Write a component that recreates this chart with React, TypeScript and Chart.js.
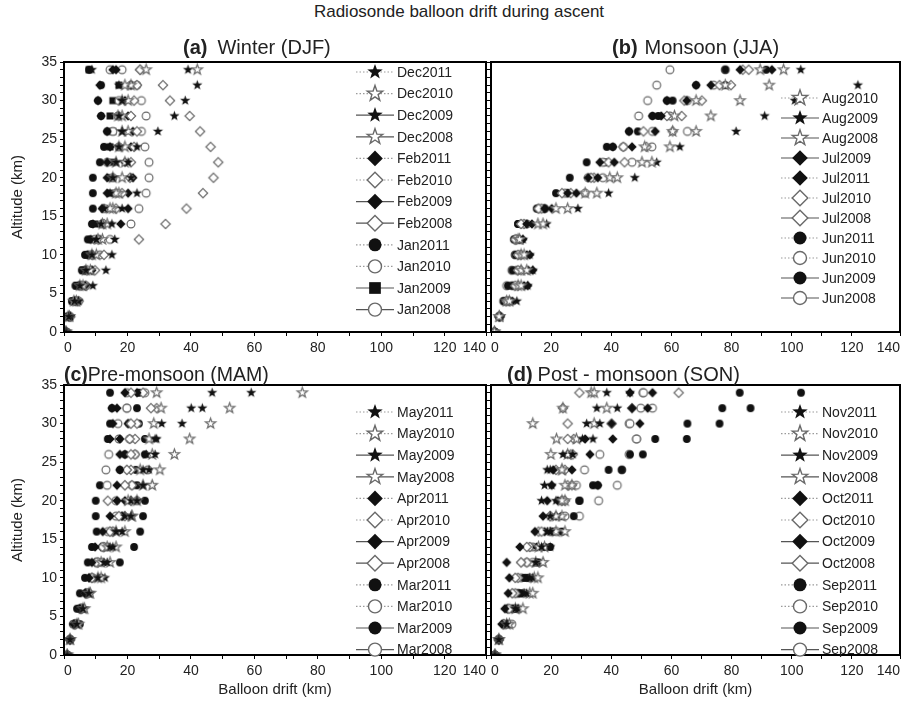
import React, { useEffect, useRef } from 'react';
import { Chart, registerables } from 'chart.js';
Chart.register(...registerables);

const FONT = '"Liberation Sans", Arial, Helvetica, sans-serif';

// Altitude levels (km) shared by every series
const ALTITUDE_KM = [0, 2, 4, 6, 8, 10, 12, 14, 16, 18, 20, 22, 24, 26, 28, 30, 32, 34];

// ---------- (a) Winter (DJF) : drift in km ----------
const DEC2011 = [0.6, 1.5, 3.3, 5.0, 6.9, 8.8, 10.2, 11.7, 12.6, 14.5, 15.4, 16.4, 17.3, 18.3, 17.3, 18.3, 17.3, 8.8];
const DEC2010 = [0.5, 1.3, 3.1, 5.0, 6.9, 8.8, 10.7, 12.1, 14.5, 16.4, 15.4, 16.4, 17.3, 18.3, 17.0, 18.3, 19.2, 42.0];
const DEC2009 = [0.8, 2.0, 4.6, 9.1, 13.2, 15.1, 16.0, 15.1, 18.3, 23.0, 21.1, 20.2, 23.0, 29.6, 34.8, 38.2, 42.0, 39.1];
const DEC2008 = [0.7, 1.7, 3.9, 6.0, 8.3, 10.2, 12.1, 13.6, 15.4, 17.3, 18.3, 19.2, 19.2, 20.2, 18.3, 20.2, 21.1, 25.9];
const FEB2011 = [0.6, 1.4, 3.4, 4.6, 6.6, 7.4, 8.4, 9.1, 12.0, 13.6, 13.6, 13.6, 14.5, 13.6, 11.7, 10.7, 11.3, 15.4];
const FEB2010 = [0.6, 1.6, 3.7, 5.5, 7.4, 8.8, 10.7, 12.6, 16.4, 18.3, 20.8, 21.1, 22.1, 23.0, 21.1, 22.1, 23.0, 24.0];
const FEB2009 = [0.7, 1.8, 4.1, 6.6, 8.8, 9.1, 11.3, 17.9, 20.2, 20.2, 21.7, 19.2, 21.1, 21.7, 20.2, 19.2, 21.1, 16.4];
const FEB2008 = [0.7, 2.0, 4.6, 6.9, 9.8, 12.6, 23.6, 32.0, 38.6, 43.8, 47.1, 48.6, 46.2, 42.9, 39.6, 33.4, 31.2, 24.0];
const JAN2011 = [0.5, 1.2, 2.5, 3.6, 5.6, 6.6, 7.5, 8.8, 9.1, 9.1, 9.1, 11.3, 12.6, 13.6, 11.7, 10.7, 11.7, 7.9];
const JAN2010 = [0.6, 1.5, 3.1, 5.0, 6.5, 7.9, 9.8, 12.0, 12.6, 16.4, 15.4, 13.6, 17.3, 15.4, 17.0, 17.3, 21.1, 14.5];
const JAN2009 = [0.5, 1.2, 2.7, 4.1, 6.0, 7.4, 8.8, 9.8, 12.9, 14.5, 14.5, 15.4, 14.5, 15.4, 14.5, 15.4, 17.3, 7.9];
const JAN2008 = [0.8, 1.9, 4.6, 6.9, 8.8, 11.3, 14.5, 21.1, 23.6, 25.9, 26.8, 26.8, 25.5, 24.4, 25.9, 24.4, 23.0, 18.3];

// ---------- (b) Monsoon (JJA) ----------
const AUG2010 = [1.1, 2.7, 6.1, 10.0, 11.9, 11.0, 9.5, 17.3, 25.5, 35.2, 42.0, 53.5, 59.5, 68.2, 73.1, 82.8, 92.5, 97.3];
const AUG2009 = [1.3, 3.2, 8.6, 12.2, 13.9, 12.9, 10.6, 18.5, 28.9, 39.1, 47.8, 55.1, 62.8, 81.5, 91.0, 101.0, 122.0, 103.0];
const AUG2008 = [1.2, 2.8, 5.2, 9.0, 10.0, 10.0, 9.0, 15.6, 21.6, 31.3, 39.5, 50.2, 51.1, 60.4, 61.0, 68.2, 77.9, 89.5];
const JUL2009 = [1.3, 2.9, 7.1, 12.2, 13.9, 12.9, 10.6, 13.6, 20.2, 28.4, 35.5, 41.0, 46.9, 54.6, 56.6, 65.1, 73.1, 93.4];
const JUL2011 = [1.2, 2.8, 6.1, 11.0, 12.4, 11.9, 9.5, 11.9, 17.8, 25.5, 32.3, 36.2, 40.5, 45.9, 53.7, 58.5, 68.2, 82.8];
const JUL2010 = [1.1, 2.7, 5.2, 8.1, 9.0, 9.0, 8.1, 10.0, 15.8, 23.6, 33.3, 39.1, 44.0, 50.7, 58.5, 64.3, 76.0, 85.7];
const JUL2008 = [1.2, 2.9, 6.1, 9.0, 10.0, 10.0, 8.5, 11.0, 16.8, 26.5, 34.3, 44.4, 51.7, 60.4, 63.4, 70.1, 79.8, 83.7];
const JUN2011 = [1.3, 2.7, 4.2, 5.6, 7.1, 8.1, 7.6, 9.0, 15.2, 21.6, 26.2, 31.8, 38.5, 45.9, 53.7, 58.5, 68.2, 77.9];
const JUN2010 = [1.1, 2.9, 4.2, 5.2, 6.9, 8.0, 8.1, 10.0, 15.8, 24.6, 32.3, 37.2, 44.0, 53.7, 49.1, 52.1, 55.1, 59.5];
const JUN2009 = [1.3, 2.7, 4.7, 7.1, 9.0, 10.0, 8.5, 9.0, 17.8, 25.5, 33.3, 38.1, 40.5, 48.8, 55.6, 60.4, 77.9, 91.5];
const JUN2008 = [1.2, 2.8, 5.2, 7.1, 8.5, 9.5, 9.0, 11.9, 17.8, 31.3, 37.2, 46.9, 53.5, 65.3, 59.5, 65.3, 74.0, 77.9];

// ---------- (c) Pre-monsoon (MAM) ----------
const MAY2011 = [1.0, 1.9, 4.1, 6.0, 7.9, 10.7, 13.6, 15.4, 18.3, 21.1, 23.0, 24.9, 26.8, 28.7, 28.7, 37.2, 43.6, 59.0];
const MAY2010 = [1.0, 1.9, 4.6, 6.5, 8.3, 11.7, 14.5, 16.4, 19.2, 21.4, 23.0, 27.8, 30.2, 34.8, 39.6, 46.2, 52.2, 75.1];
const MAY2009 = [1.0, 1.9, 4.1, 6.0, 7.9, 12.9, 12.6, 14.5, 16.4, 19.2, 21.1, 27.8, 24.9, 25.9, 29.2, 30.8, 40.1, 46.7];
const MAY2008 = [1.0, 1.9, 4.1, 6.0, 7.9, 10.7, 11.7, 13.6, 16.4, 21.4, 20.2, 24.9, 24.0, 27.8, 26.8, 28.3, 30.6, 29.2];
const APR2011 = [1.0, 1.9, 3.1, 5.0, 6.6, 7.9, 8.8, 9.8, 12.2, 14.5, 16.7, 16.7, 17.6, 17.6, 14.5, 15.4, 15.1, 19.2];
const APR2010 = [1.0, 1.9, 3.6, 5.5, 7.5, 8.8, 10.2, 12.1, 14.5, 17.3, 13.8, 19.2, 19.8, 21.1, 20.7, 21.1, 27.4, 21.1];
const APR2009 = [1.0, 1.9, 3.1, 5.0, 6.9, 7.9, 9.8, 11.7, 14.5, 18.3, 19.2, 19.2, 19.8, 19.2, 17.6, 20.2, 16.7, 23.0];
const APR2008 = [1.0, 1.9, 3.6, 5.5, 6.9, 8.8, 10.7, 12.6, 15.4, 19.2, 21.1, 21.4, 21.1, 22.4, 22.4, 23.0, 29.2, 24.9];
const MAR2011 = [1.0, 1.9, 5.0, 6.0, 7.9, 11.7, 17.6, 22.1, 24.0, 24.9, 25.5, 23.0, 22.6, 25.5, 25.5, 23.6, 23.0, 23.6];
const MAR2010 = [1.0, 1.9, 3.1, 5.6, 7.5, 9.1, 12.0, 13.6, 15.4, 16.4, 16.4, 13.6, 13.2, 14.1, 20.7, 20.5, 19.8, 19.8];
const MAR2009 = [1.0, 1.9, 2.8, 4.1, 5.0, 6.6, 7.5, 8.8, 10.3, 10.0, 10.0, 11.3, 17.6, 19.2, 13.8, 14.5, 15.1, 14.5];
const MAR2008 = [1.0, 1.9, 3.4, 5.0, 6.9, 8.8, 10.7, 12.6, 13.8, 18.3, 23.0, 21.4, 26.4, 22.4, 17.3, 17.0, 19.8, 25.5];

// ---------- (d) Post - monsoon (SON) ----------
const NOV2011 = [1.3, 2.6, 5.2, 8.1, 11.0, 12.9, 14.9, 16.8, 18.7, 19.7, 16.8, 17.8, 18.7, 23.9, 30.4, 31.8, 35.2, 38.5];
const NOV2010 = [1.3, 2.6, 6.1, 10.6, 13.9, 15.6, 17.3, 15.8, 24.6, 21.6, 23.6, 24.6, 23.6, 19.9, 21.8, 13.9, 23.9, 34.3];
const NOV2009 = [1.3, 2.6, 5.6, 9.0, 11.9, 13.9, 17.3, 19.7, 19.7, 21.6, 21.6, 20.2, 19.7, 27.2, 33.9, 36.2, 42.0, 46.2];
const NOV2008 = [1.3, 2.6, 5.2, 8.1, 12.9, 14.4, 14.9, 17.8, 21.6, 23.6, 24.6, 26.9, 23.6, 25.5, 28.4, 34.3, 38.5, 33.3];
const OCT2011 = [1.3, 2.6, 3.6, 4.6, 5.7, 6.1, 5.2, 9.6, 14.6, 17.3, 18.7, 20.2, 20.7, 25.5, 31.3, 40.1, 46.9, 46.2];
const OCT2010 = [1.3, 2.6, 4.2, 6.1, 7.1, 8.1, 10.0, 11.9, 16.8, 19.7, 24.6, 26.9, 21.6, 27.2, 25.5, 25.5, 23.9, 29.4];
const OCT2009 = [1.3, 2.6, 4.2, 5.2, 7.1, 8.1, 10.0, 15.2, 17.8, 21.6, 22.2, 35.5, 26.9, 32.9, 40.5, 49.5, 52.1, 53.7];
const OCT2008 = [1.3, 2.6, 4.2, 5.6, 8.1, 9.0, 11.9, 12.9, 15.8, 19.7, 23.6, 25.5, 24.6, 26.5, 27.5, 40.1, 46.9, 62.4];
const SEP2011 = [1.3, 2.6, 5.2, 8.1, 10.0, 11.9, 15.8, 19.7, 23.6, 27.5, 29.4, 35.5, 43.5, 50.5, 65.1, 76.0, 86.3, 103.1];
const SEP2010 = [1.3, 2.6, 6.9, 9.0, 11.0, 12.9, 13.9, 12.9, 21.8, 24.6, 23.6, 28.4, 31.1, 36.2, 48.4, 46.2, 49.8, 50.7];
const SEP2009 = [1.3, 2.6, 4.7, 7.1, 9.0, 11.0, 14.9, 17.8, 20.7, 23.6, 29.4, 33.9, 39.1, 46.2, 54.6, 65.3, 76.9, 82.7];
const SEP2008 = [1.3, 2.6, 5.2, 7.1, 9.0, 10.0, 11.9, 13.9, 19.7, 29.4, 35.8, 42.0, 43.5, 45.9, 48.4, 45.9, 53.7, 50.5];

type Marker = 'star' | 'diamond' | 'circle' | 'square';
interface SeriesDef { label: string; values: number[]; marker: Marker; filled: boolean; dotted: boolean; }

const S = (label: string, values: number[], marker: Marker, filled: boolean, dotted: boolean): SeriesDef =>
  ({ label, values, marker, filled, dotted });

const SERIES_A: SeriesDef[] = [
  S('Dec2011', DEC2011, 'star', true, true),
  S('Dec2010', DEC2010, 'star', false, true),
  S('Dec2009', DEC2009, 'star', true, false),
  S('Dec2008', DEC2008, 'star', false, false),
  S('Feb2011', FEB2011, 'diamond', true, true),
  S('Feb2010', FEB2010, 'diamond', false, true),
  S('Feb2009', FEB2009, 'diamond', true, false),
  S('Feb2008', FEB2008, 'diamond', false, false),
  S('Jan2011', JAN2011, 'circle', true, true),
  S('Jan2010', JAN2010, 'circle', false, true),
  S('Jan2009', JAN2009, 'square', true, false),
  S('Jan2008', JAN2008, 'circle', false, false),
];
const SERIES_B: SeriesDef[] = [
  S('Aug2010', AUG2010, 'star', false, true),
  S('Aug2009', AUG2009, 'star', true, false),
  S('Aug2008', AUG2008, 'star', false, false),
  S('Jul2009', JUL2009, 'diamond', true, false),
  S('Jul2011', JUL2011, 'diamond', true, true),
  S('Jul2010', JUL2010, 'diamond', false, true),
  S('Jul2008', JUL2008, 'diamond', false, false),
  S('Jun2011', JUN2011, 'circle', true, true),
  S('Jun2010', JUN2010, 'circle', false, true),
  S('Jun2009', JUN2009, 'circle', true, false),
  S('Jun2008', JUN2008, 'circle', false, false),
];
const SERIES_C: SeriesDef[] = [
  S('May2011', MAY2011, 'star', true, true),
  S('May2010', MAY2010, 'star', false, true),
  S('May2009', MAY2009, 'star', true, false),
  S('May2008', MAY2008, 'star', false, false),
  S('Apr2011', APR2011, 'diamond', true, true),
  S('Apr2010', APR2010, 'diamond', false, true),
  S('Apr2009', APR2009, 'diamond', true, false),
  S('Apr2008', APR2008, 'diamond', false, false),
  S('Mar2011', MAR2011, 'circle', true, true),
  S('Mar2010', MAR2010, 'circle', false, true),
  S('Mar2009', MAR2009, 'circle', true, false),
  S('Mar2008', MAR2008, 'circle', false, false),
];
const SERIES_D: SeriesDef[] = [
  S('Nov2011', NOV2011, 'star', true, true),
  S('Nov2010', NOV2010, 'star', false, true),
  S('Nov2009', NOV2009, 'star', true, false),
  S('Nov2008', NOV2008, 'star', false, false),
  S('Oct2011', OCT2011, 'diamond', true, true),
  S('Oct2010', OCT2010, 'diamond', false, true),
  S('Oct2009', OCT2009, 'diamond', true, false),
  S('Oct2008', OCT2008, 'diamond', false, false),
  S('Sep2011', SEP2011, 'circle', true, true),
  S('Sep2010', SEP2010, 'circle', false, true),
  S('Sep2009', SEP2009, 'circle', true, false),
  S('Sep2008', SEP2008, 'circle', false, false),
];

function markerPath(ctx: CanvasRenderingContext2D, m: Marker, x: number, y: number, r: number) {
  ctx.beginPath();
  if (m === 'circle') {
    ctx.arc(x, y, r, 0, Math.PI * 2);
  } else if (m === 'square') {
    ctx.rect(x - r * 0.9, y - r * 0.9, r * 1.8, r * 1.8);
  } else if (m === 'diamond') {
    const d = r * 1.2;
    ctx.moveTo(x, y - d); ctx.lineTo(x + d, y); ctx.lineTo(x, y + d); ctx.lineTo(x - d, y); ctx.closePath();
  } else {
    for (let i = 0; i < 10; i++) {
      const ang = -Math.PI / 2 + (i * Math.PI) / 5;
      const rad = i % 2 === 0 ? r * 1.25 : r * 0.5;
      const px = x + rad * Math.cos(ang), py = y + rad * Math.sin(ang);
      if (i === 0) ctx.moveTo(px, py); else ctx.lineTo(px, py);
    }
    ctx.closePath();
  }
}

function paintMarker(ctx: CanvasRenderingContext2D, m: Marker, filled: boolean, x: number, y: number, r: number, lw: number) {
  markerPath(ctx, m, x, y, r);
  if (filled) {
    ctx.fillStyle = '#111';
    ctx.fill();
  } else {
    ctx.fillStyle = '#fff';
    ctx.fill();
    ctx.strokeStyle = '#6a6a6a';
    ctx.lineWidth = lw;
    ctx.stroke();
  }
}

const spriteCache = new Map<string, HTMLCanvasElement>();
function sprite(m: Marker, filled: boolean, r: number) {
  const key = m + filled + r;
  const hit = spriteCache.get(key);
  if (hit) return hit;
  const size = Math.ceil(r * 3) + 2;
  const c = document.createElement('canvas');
  c.width = size; c.height = size;
  const ctx = c.getContext('2d')!;
  paintMarker(ctx, m, filled, size / 2, size / 2, r, 1.2);
  spriteCache.set(key, c);
  return c;
}

const framePlugin = {
  id: 'frameBox',
  afterDatasetsDraw(chart: any) {
    const { ctx, chartArea: a } = chart;
    ctx.save();
    ctx.strokeStyle = '#000';
    ctx.lineWidth = 2;
    ctx.strokeRect(a.left, a.top, a.right - a.left, a.bottom - a.top);
    ctx.restore();
  },
};

const lineLegendPlugin = {
  id: 'lineLegend',
  afterDraw(chart: any, _args: any, opts: any) {
    const { ctx } = chart;
    ctx.save();
    ctx.font = `14px ${FONT}`;
    ctx.textBaseline = 'middle';
    ctx.textAlign = 'left';
    chart.data.datasets.forEach((d: any, i: number) => {
      const y = opts.y + i * opts.dy;
      const x = opts.x;
      ctx.beginPath();
      ctx.setLineDash(d.dotted ? [1.5, 2] : []);
      ctx.strokeStyle = d.dotted ? '#9a9a9a' : '#555';
      ctx.lineWidth = 1.2;
      ctx.moveTo(x - 19, y);
      ctx.lineTo(x + 19, y);
      ctx.stroke();
      ctx.setLineDash([]);
      paintMarker(ctx, d.marker, d.filled, x, y, 6.5, 1.4);
      ctx.fillStyle = '#222';
      ctx.fillText(d.label, x + 22, y + 1);
    });
    ctx.restore();
  },
};

interface PanelProps {
  series: SeriesDef[];
  left: number; top: number; width: number; height: number;
  pad: { top: number; right: number; bottom: number; left: number };
  yWidth: number; xHeight: number; xMax: number;
  yLabels: boolean; yTitle: boolean; xTitle: boolean;
  legend: { x: number; y: number; dy: number };
}

function Panel(p: PanelProps) {
  const ref = useRef<HTMLCanvasElement>(null);
  useEffect(() => {
    const datasets = p.series.map((s) => ({
      label: s.label,
      data: ALTITUDE_KM.map((alt, i) => ({ x: s.values[i], y: alt })),
      pointStyle: sprite(s.marker, s.filled, s.marker === 'star' ? 4.3 : 3.9),
      showLine: false,
      marker: s.marker,
      filled: s.filled,
      dotted: s.dotted,
    }));
    const tickFont = { family: FONT, size: 14 };
    const chart = new Chart(ref.current!, {
      type: 'scatter',
      data: { datasets } as any,
      plugins: [framePlugin, lineLegendPlugin],
      options: {
        animation: false,
        responsive: false,
        events: [],
        layout: { padding: p.pad, autoPadding: false } as any,
        plugins: {
          legend: { display: false },
          tooltip: { enabled: false },
          lineLegend: p.legend,
        } as any,
        scales: {
          x: {
            type: 'linear', min: 0, max: p.xMax,
            afterFit: (s: any) => { s.height = p.xHeight; },
            border: { display: true, color: '#000', width: 2 },
            grid: { drawOnChartArea: false, drawTicks: true, tickLength: 4, color: '#000' },
            ticks: {
              stepSize: 10, autoSkip: false, maxRotation: 0, padding: 4, align: 'inner',
              color: '#222', font: tickFont,
              callback: (v: any, i: number, ticks: any[]) =>
                i === ticks.length - 1 ? '140' : (Number(v) % 20 === 0 ? String(v) : ''),
            },
            title: {
              display: p.xTitle, text: 'Balloon drift (km)', color: '#222',
              font: { family: FONT, size: 15 }, padding: { top: 0, bottom: 10 },
            },
          },
          y: {
            type: 'linear', min: 0, max: 35,
            afterFit: (s: any) => { s.width = p.yWidth; },
            border: { display: true, color: '#000', width: 2 },
            grid: { drawOnChartArea: false, drawTicks: true, tickLength: 4, color: '#000' },
            ticks: {
              stepSize: 1, autoSkip: false, padding: 3, color: '#222', font: tickFont,
              callback: (v: any) => (p.yLabels && Number(v) % 5 === 0 ? String(v) : ''),
            },
            title: {
              display: p.yTitle, text: 'Altitude (km)', color: '#222',
              font: { family: FONT, size: 15 }, padding: { top: 9, bottom: 0 },
            },
          },
        },
      } as any,
    });
    return () => chart.destroy();
  }, []);
  return (
    <canvas
      ref={ref}
      width={p.width}
      height={p.height}
      style={{ position: 'absolute', left: p.left, top: p.top, width: p.width, height: p.height }}
    />
  );
}

const titleStyle: React.CSSProperties = {
  position: 'absolute', fontFamily: FONT, color: '#222', whiteSpace: 'nowrap', lineHeight: '22px',
};

export default function App() {
  return (
    <div style={{ position: 'absolute', left: 0, top: 0, width: 918, height: 709, background: '#fff', overflow: 'hidden' }}>
      <div style={{ ...titleStyle, left: 0, width: 918, top: 1, textAlign: 'center', fontSize: 17 }}>
        Radiosonde balloon drift during ascent
      </div>
      <Panel series={SERIES_A} left={0} top={40} width={490} height={325} xMax={133}
        pad={{ top: 22, right: 3, bottom: 0, left: 0 }} yWidth={64} xHeight={33}
        yLabels yTitle xTitle={false} legend={{ x: 375, y: 32, dy: 21.6 }} />
      <Panel series={SERIES_B} left={484} top={40} width={434} height={325} xMax={136}
        pad={{ top: 22, right: 18, bottom: 0, left: 0 }} yWidth={7} xHeight={33}
        yLabels={false} yTitle={false} xTitle={false} legend={{ x: 316, y: 58, dy: 20 }} />
      <Panel series={SERIES_C} left={0} top={370} width={490} height={339} xMax={133}
        pad={{ top: 15, right: 3, bottom: 0, left: 0 }} yWidth={64} xHeight={54}
        yLabels yTitle xTitle legend={{ x: 375, y: 42, dy: 21.6 }} />
      <Panel series={SERIES_D} left={484} top={370} width={434} height={339} xMax={136}
        pad={{ top: 15, right: 18, bottom: 0, left: 0 }} yWidth={7} xHeight={54}
        yLabels={false} yTitle={false} xTitle legend={{ x: 316, y: 42, dy: 21.6 }} />
      <div style={{ ...titleStyle, left: 183, top: 36, fontSize: 20 }}>
        <b>(a)</b><span style={{ marginLeft: 10 }}>Winter (DJF)</span>
      </div>
      <div style={{ ...titleStyle, left: 612, top: 36, fontSize: 20 }}>
        <b>(b)</b><span style={{ marginLeft: 7 }}>Monsoon (JJA)</span>
      </div>
      <div style={{ ...titleStyle, left: 64, top: 363, fontSize: 19.5 }}>
        <b>(c)</b><span>Pre-monsoon (MAM)</span>
      </div>
      <div style={{ ...titleStyle, left: 507, top: 363, fontSize: 20 }}>
        <b>(d)</b><span style={{ marginLeft: 5 }}>Post - monsoon (SON)</span>
      </div>
    </div>
  );
}
